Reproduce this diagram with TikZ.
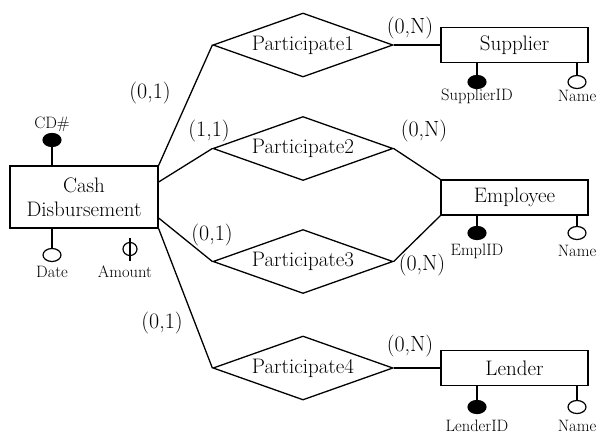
\documentclass[tikz,border=0pt]{standalone}
\usepackage{tikz}
\usetikzlibrary{shapes.geometric}

\tikzset{
  entity/.style={draw, line width=1.3pt, minimum width=147pt, minimum height=35pt, inner sep=0pt, font=\fontsize{21}{24}\selectfont},
  relship/.style={draw, diamond, line width=1.3pt, aspect=2.8, minimum width=180pt, minimum height=64pt, inner sep=0pt, font=\fontsize{21}{24}\selectfont},
  keyattr/.style={draw, fill=black, ellipse, line width=1.2pt, minimum width=18pt, minimum height=13pt, inner sep=0pt},
  attr/.style={draw, fill=white, ellipse, line width=1.2pt, minimum width=18pt, minimum height=13pt, inner sep=0pt},
  attrlabel/.style={font=\fontsize{16.5}{18}\selectfont, inner sep=0pt},
  card/.style={font=\fontsize{22}{24}\selectfont, inner sep=0pt}
}

\begin{document}
\begin{tikzpicture}[x=1pt, y=-1pt, line width=1.3pt]
        \useasboundingbox (0,0) rectangle (601,434);
        % entities
        \node[entity, minimum width=148pt, minimum height=62pt, align=center] (cash) at (84,197) {Cash\\Disbursement};
        \node[entity] (supplier) at (514.5,45) {Supplier};
        \node[entity] (employee) at (514.5,197.5) {Employee};
        \node[entity] (lender) at (514.5,368) {Lender};
        % relationships
        \node[relship] (p1) at (303,45) {Participate1};
        \node[relship] (p2) at (303,148.5) {Participate2};
        \node[relship] (p3) at (303,261.5) {Participate3};
        \node[relship] (p4) at (303,368) {Participate4};
        \draw (cash.north east) -- (p1.west);
        \draw ([yshift=15pt]cash.east) -- (p2.west);
        \draw ([yshift=-21pt]cash.east) -- (p3.west);
        \draw (cash.south east) -- (p4.west);
        \draw (p1.east) -- (supplier.west);
        \draw (p2.east) -- (employee.north west);
        \draw (p3.east) -- (employee.south west);
        \draw (p4.east) -- (lender.west);
        % cardinalities
        \node[card] (c1) at (150,93) {(0,1)};
        \node[card] (c2) at (209,131) {(1,1)};
        \node[card] (c3) at (212,235) {(0,1)};
        \node[card] (c4) at (162,323) {(0,1)};
        \node[card] (n1) at (410,28) {(0,N)};
        \node[card] (n2) at (424,131) {(0,N)};
        \node[card] (n3) at (422,265) {(0,N)};
        \node[card] (n4) at (410,346) {(0,N)};
        % attributes of Cash Disbursement
        \node[keyattr] (cdno) at (52,140) {};
        \draw (cdno) -- (cdno |- cash.north);
        \node[attrlabel] (cdnol) at (52,124) {CD\#};
        \node[attr] (date) at (52,255) {};
        \draw (date) -- (date |- cash.south);
        \node[attrlabel] (datel) at (52,272) {Date};
        \node[attr, minimum width=14pt] (amount) at (130,249) {};
        \coordinate (amtop) at (130,238);
        \coordinate (ambot) at (130,261);
        \draw (amtop) -- (ambot);
        \node[attrlabel] (amountl) at (125,272) {Amount};
        % attributes of Supplier
        \node[keyattr] (supid) at (477,82) {};
        \node[attr] (supname) at (577,82) {};
        \draw (supid) -- (supid |- supplier.south);
        \draw (supname) -- (supname |- supplier.south);
        \node[attrlabel] (supidl) at (477,96) {SupplierID};
        \node[attrlabel] (supnamel) at (577,96) {Name};
        % attributes of Employee
        \node[keyattr] (empid) at (477,233) {};
        \node[attr] (empname) at (577,233) {};
        \draw (empid) -- (empid |- employee.south);
        \draw (empname) -- (empname |- employee.south);
        \node[attrlabel] (empidl) at (477,251) {EmplID};
        \node[attrlabel] (empnamel) at (577,251) {Name};
        % attributes of Lender
        \node[keyattr] (lenid) at (477,407) {};
        \node[attr] (lenname) at (577,407) {};
        \draw (lenid) -- (lenid |- lender.south);
        \draw (lenname) -- (lenname |- lender.south);
        \node[attrlabel] (lenidl) at (477,426) {LenderID};
        \node[attrlabel] (lennamel) at (577,426) {Name};
    \end{tikzpicture}
\end{document}
